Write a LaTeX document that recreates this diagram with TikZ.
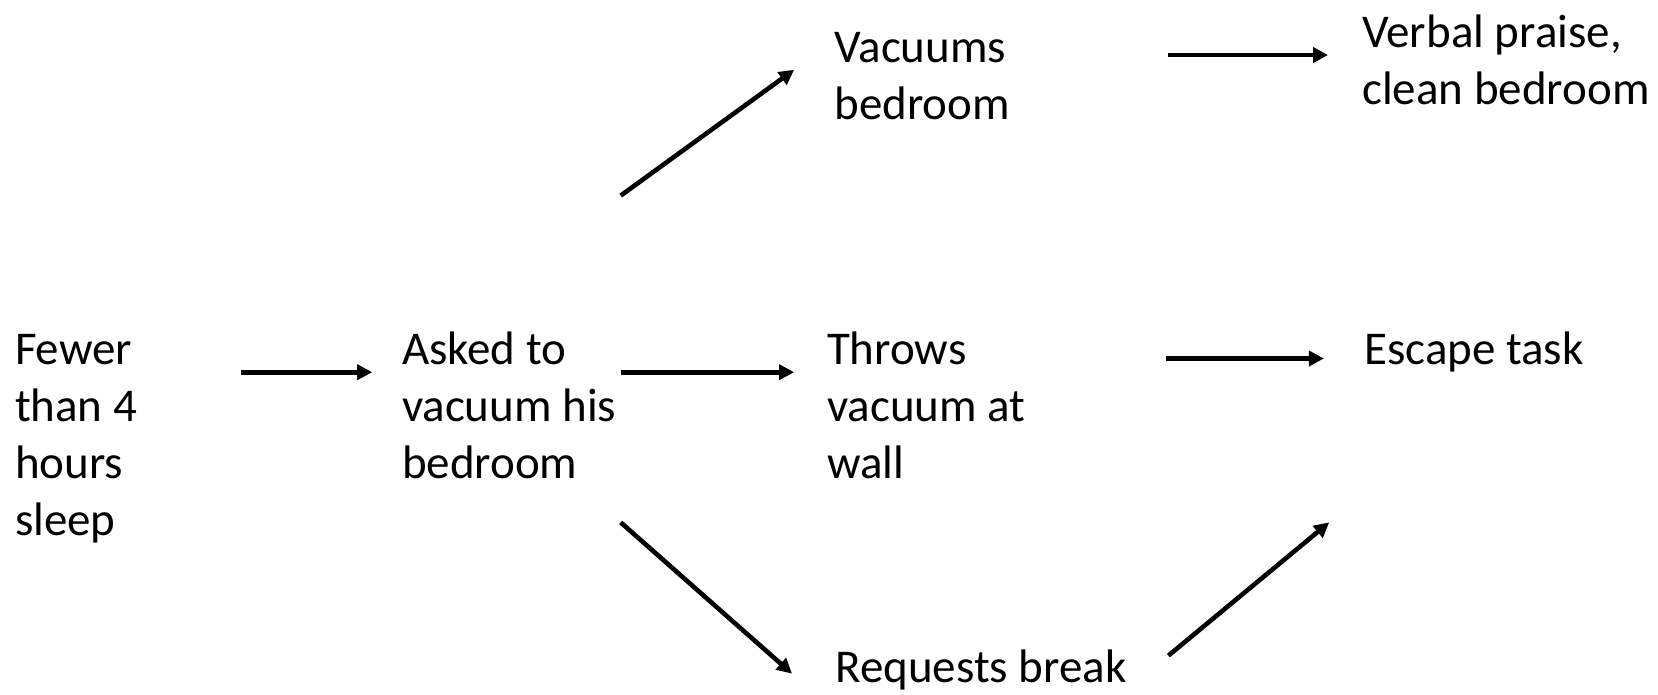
\documentclass[tikz,border=0pt]{standalone}
\usepackage{fontspec}
\setmainfont{Carlito}
\usetikzlibrary{arrows.meta}
\begin{document}
\begin{tikzpicture}[x=1pt,y=-1pt,
  label text/.style={anchor=base west, align=left, inner sep=0pt,
    font=\fontsize{47}{57}\selectfont},
  flow/.style={line width=4.6pt, -{Triangle[length=15pt,width=15pt]}}]
  \useasboundingbox (0,0) rectangle (1658,694);

  % antecedent, demand and the two consequences (anchored at the last line's baseline)
  \node[label text] (sleep)   at (14.8,535.8)  {Fewer\\than 4\\hours\\sleep};
  \node[label text] (asked)   at (401.8,478.8) {Asked to\\vacuum his\\bedroom};
  \node[label text] (vacuums) at (834.3,119.4) {Vacuums\\bedroom};
  \node[label text] (throws)  at (826.9,478.8) {Throws\\vacuum at\\wall};
  \node[label text] (request) at (835.3,682)   {Requests break};
  \node[label text] (praise)  at (1362,104.6)  {Verbal praise,\\clean bedroom};
  \node[label text] (escape)  at (1364,364.8)  {Escape task};

  % connector ends
  \coordinate (s1) at (241,372.2);    \coordinate (e1) at (372.2,372.2);
  \coordinate (s2) at (620.7,372.2);  \coordinate (e2) at (794.1,372.2);
  \coordinate (s3) at (620.7,195.6);  \coordinate (e3) at (794.1,69.8);
  \coordinate (s4) at (620.7,522.4);  \coordinate (e4) at (792,673.6);
  \coordinate (s5) at (1168.4,55);    \coordinate (e5) at (1328,55);
  \coordinate (s6) at (1166.3,358.5); \coordinate (e6) at (1323.9,358.5);
  \coordinate (s7) at (1168.4,655.6); \coordinate (e7) at (1329.2,522.4);

  \draw[flow] (s1) -- (e1);
  \draw[flow] (s2) -- (e2);
  \draw[flow] (s3) -- (e3);
  \draw[flow] (s4) -- (e4);
  \draw[flow] (s5) -- (e5);
  \draw[flow] (s6) -- (e6);
  \draw[flow] (s7) -- (e7);
\end{tikzpicture}
\end{document}
